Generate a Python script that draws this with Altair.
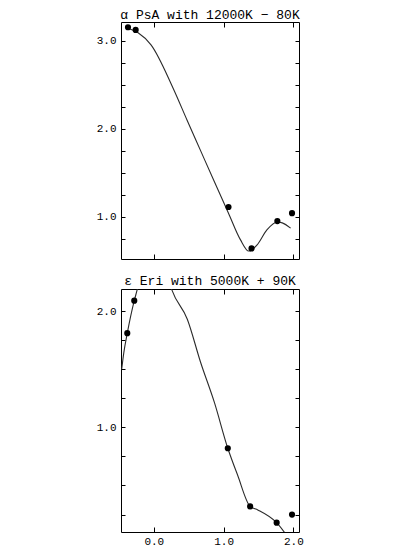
import altair as alt
import pandas as pd

# ---- data ----
top_title = "α PsA with 12000K − 80K"
top_pts_x = [-0.37, -0.26, 1.07, 1.40, 1.77, 1.98]
top_pts_y = [3.15, 3.12, 1.11, 0.64, 0.95, 1.04]
top_curve_x = [-0.37, -0.23, -0.04, 0.27, 0.48, 0.67, 0.86, 1.07, 1.24, 1.36, 1.48, 1.62, 1.77, 1.84, 1.96]
top_curve_y = [3.14, 3.09, 2.95, 2.47, 2.09, 1.75, 1.41, 1.04, 0.74, 0.61, 0.68, 0.85, 0.94, 0.93, 0.87]
top_y_ticks = [0.75, 1.0, 1.25, 1.5, 1.75, 2.0, 2.25, 2.5, 2.75, 3.0]

bot_title = "ε Eri with 5000K + 90K"
bot_pts_x = [-0.38, -0.28, 1.06, 1.38, 1.76, 1.98]
bot_pts_y = [1.81, 2.09, 0.82, 0.32, 0.18, 0.25]
bot_curve_x = [-0.46, -0.43, -0.38, -0.28, -0.24, -0.15, 0.0, 0.15, 0.26, 0.48, 0.67, 0.87, 1.06, 1.20, 1.38, 1.49, 1.76, 1.88]
bot_curve_y = [1.50, 1.64, 1.81, 2.09, 2.18, 2.45, 2.55, 2.40, 2.18, 1.93, 1.56, 1.21, 0.82, 0.59, 0.32, 0.29, 0.18, 0.09]
bot_y_ticks = [0.25, 0.5, 0.75, 1.0, 1.25, 1.5, 1.75, 2.0]

x_ticks = [0.0, 1.0, 2.0]
x_domain = [-0.47, 2.08]
top_y_domain = [0.52, 3.21]
bot_y_domain = [0.10, 2.19]

FONT = "Liberation Mono"
LABEL_EXPR = "abs(datum.value - round(datum.value)) < 0.001 ? format(datum.value, '.1f') : ''"


def panel(title, cx, cy, px, py, ydom, yticks, xlabels, height, title_offset):
    curve = pd.DataFrame({"x": cx, "y": cy})
    pts = pd.DataFrame({"x": px, "y": py})
    xs = alt.Scale(domain=x_domain, nice=False, zero=False)
    ys = alt.Scale(domain=ydom, nice=False, zero=False)

    line = alt.Chart(curve).mark_line(
        interpolate="monotone", color="#2a2a2a", strokeWidth=1.1, clip=True
    ).encode(
        x=alt.X("x:Q", scale=xs, axis=alt.Axis(
            orient="bottom", values=x_ticks, labels=xlabels, format=".1f",
            tickSize=5, offset=-5, domain=False, grid=False, title=None,
            labelFont=FONT, labelFontSize=11, labelColor="black",
            labelPadding=3, tickColor="black")),
        y=alt.Y("y:Q", scale=ys, axis=alt.Axis(
            orient="left", values=yticks, labelExpr=LABEL_EXPR,
            tickSize=4, offset=-4, domain=False, grid=False, title=None,
            labelFont=FONT, labelFontSize=11, labelColor="black",
            labelPadding=5, tickColor="black")),
    )
    points = alt.Chart(pts).mark_circle(size=38, color="black", opacity=1).encode(
        x=alt.X("x:Q", scale=xs, axis=alt.Axis(
            orient="top", values=x_ticks, labels=False, tickSize=5, offset=-5,
            domain=False, grid=False, title=None, tickColor="black")),
        y=alt.Y("y:Q", scale=ys, axis=alt.Axis(
            orient="right", values=yticks, labels=False, tickSize=4, offset=-4,
            domain=False, grid=False, title=None, tickColor="black")),
    )
    return alt.layer(line, points).resolve_axis(x="independent", y="independent").properties(
        width=178, height=height,
        title=alt.TitleParams(title, font=FONT, fontSize=13, fontWeight="normal",
                              color="black", offset=title_offset, anchor="middle"),
    )


top = panel(top_title, top_curve_x, top_curve_y, top_pts_x, top_pts_y,
            top_y_domain, top_y_ticks, False, 237, 0)
bot = panel(bot_title, bot_curve_x, bot_curve_y, bot_pts_x, bot_pts_y,
            bot_y_domain, bot_y_ticks, True, 243, 1)

chart = alt.vconcat(top, bot, spacing=14).properties(
    padding={"left": 87, "top": 0, "right": 5, "bottom": 0}
).configure(background="white").configure_view(stroke="black", strokeWidth=1)

chart.save("out.html", embed_options={"renderer": "svg", "actions": False})
